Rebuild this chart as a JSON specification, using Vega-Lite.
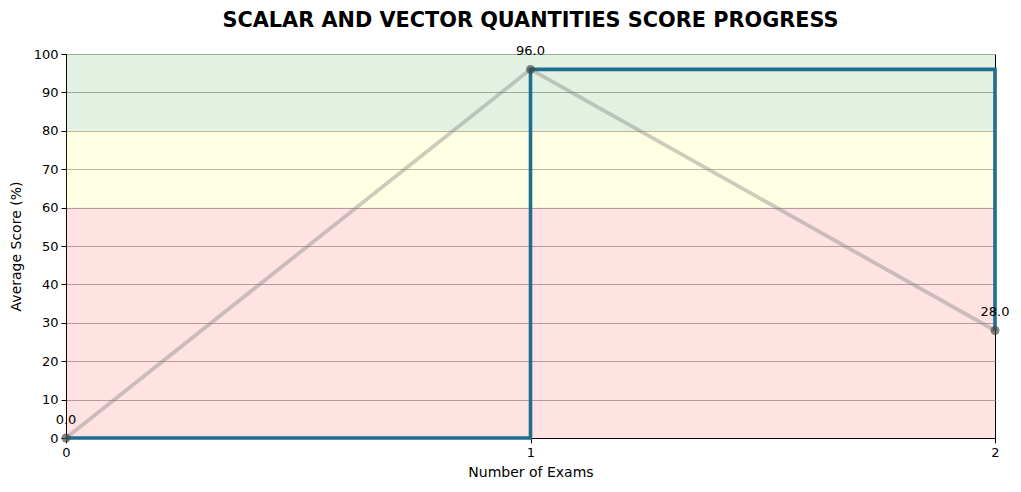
{
  "$schema": "https://vega.github.io/schema/vega-lite/v6.json",
  "width": 929,
  "height": 384,
  "autosize": "none",
  "padding": {"left": 66, "top": 54, "right": 26, "bottom": 54},
  "title": {"text": "SCALAR AND VECTOR QUANTITIES SCORE PROGRESS", "font": "DejaVu Sans", "fontSize": 20.8, "fontWeight": "bold", "color": "black", "offset": 14},
  "config": {
    "view": {"stroke": "black", "strokeWidth": 1},
    "font": "DejaVu Sans",
    "axis": {"labelFont": "DejaVu Sans", "titleFont": "DejaVu Sans", "labelFontSize": 13, "titleFontSize": 14, "titleFontWeight": "normal", "labelColor": "black", "titleColor": "black", "domainColor": "black", "tickColor": "black", "tickSize": 5, "labelPadding": 3, "labelOverlap": false, "labelFlush": false, "labelBound": false}
  },
  "datasets": {
    "bands": [
      {"lo": 0, "hi": 60, "band": "red"},
      {"lo": 60, "hi": 80, "band": "yellow"},
      {"lo": 80, "hi": 100, "band": "green"}
    ],
    "scores": [
      {"exam": 0, "score": 0, "label": "0.0"},
      {"exam": 1, "score": 96, "label": "96.0"},
      {"exam": 2, "score": 28, "label": "28.0"}
    ]
  },
  "encoding": {
    "x": {"field": "exam", "type": "ordinal", "scale": {"type": "point", "padding": 0, "domain": [0, 1, 2]}, "axis": {"labelAngle": 0, "title": "Number of Exams", "grid": false, "titlePadding": 6}},
    "y": {"field": "score", "type": "quantitative", "scale": {"domain": [0, 100], "nice": false}, "axis": {"values": [0, 10, 20, 30, 40, 50, 60, 70, 80, 90, 100], "title": "Average Score (%)", "grid": true, "gridColor": "#b0b0b0", "gridOpacity": 1, "gridWidth": 1, "titlePadding": 10}}
  },
  "layer": [
    {
      "data": {"name": "bands"},
      "mark": {"type": "rect", "opacity": 0.11},
      "encoding": {
        "x": null,
        "y": {"field": "lo", "type": "quantitative", "scale": {"domain": [0, 100], "nice": false}, "axis": {"values": [0, 10, 20, 30, 40, 50, 60, 70, 80, 90, 100], "title": "Average Score (%)", "grid": true, "gridColor": "#b0b0b0", "gridOpacity": 1, "gridWidth": 1, "titlePadding": 10}},
        "y2": {"field": "hi"},
        "color": {"field": "band", "type": "nominal", "scale": {"domain": ["red", "yellow", "green"], "range": ["#ff0000", "#ffff00", "#008000"]}, "legend": null}
      }
    },
    {
      "data": {"name": "scores"},
      "mark": {"type": "line", "color": "#808080", "opacity": 0.4, "strokeWidth": 3.8}
    },
    {
      "data": {"name": "scores"},
      "mark": {"type": "line", "color": "#1f6e8f", "strokeWidth": 3.6, "interpolate": "step-after"}
    },
    {
      "data": {"name": "scores"},
      "mark": {"type": "point", "filled": true, "color": "#444444", "opacity": 0.65, "size": 80}
    },
    {
      "data": {"name": "scores"},
      "mark": {"type": "text", "dy": -18, "fontSize": 13, "color": "black", "font": "DejaVu Sans"},
      "encoding": {
        "text": {"field": "label"}
      }
    }
  ]
}
